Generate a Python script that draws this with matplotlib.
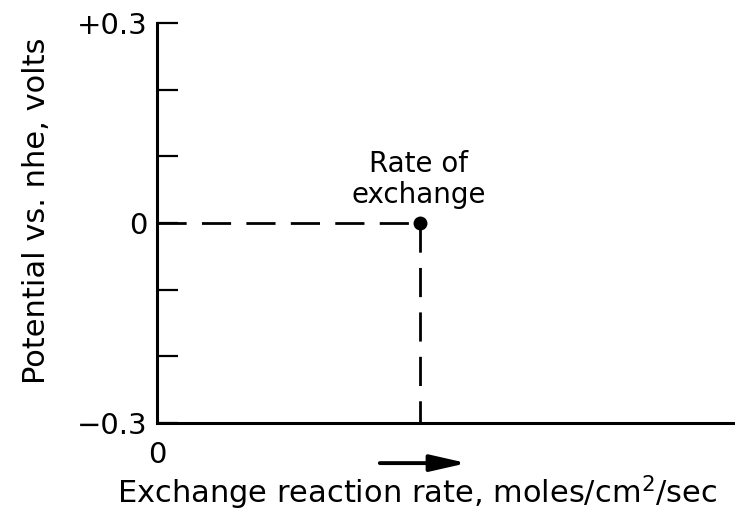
import matplotlib.pyplot as plt
import numpy as np

plt.rcParams['font.family'] = ['DejaVu Sans']
plt.rcParams['lines.scale_dashes'] = False

# data
ytick_vals = [-0.3, -0.2, -0.1, 0.0, 0.1, 0.2, 0.3]
ytick_labels = ['\u22120.3', '', '', '0', '', '', '+0.3']
exchange_rate = 0.455   # position along the rate axis (arbitrary units)
exchange_potential = 0.0
point_label = 'Rate of\nexchange'

fig = plt.figure(figsize=(7.35, 5.14), dpi=100)
ax = fig.add_axes([0.2136, 0.177, 0.7864, 0.778])

ax.set_xlim(0, 1)
ax.set_ylim(-0.3, 0.3)

# dashed guides to the point
ax.plot([0, exchange_rate], [exchange_potential, exchange_potential],
        color='black', lw=2, dashes=(21, 11))
ax.plot([exchange_rate, exchange_rate], [exchange_potential, -0.3],
        color='black', lw=2, dashes=(21, 11))
ax.plot([exchange_rate], [exchange_potential], 'o', color='black', ms=9, clip_on=False)

ax.annotate(point_label, (exchange_rate, exchange_potential), xytext=(-1, 10),
            textcoords='offset points', ha='center', va='bottom',
            fontsize=20, linespacing=1.15)

for s in ['top', 'right']:
    ax.spines[s].set_visible(False)
for s in ['left', 'bottom']:
    ax.spines[s].set_linewidth(2.2)

ax.set_yticks(ytick_vals, ytick_labels)
ax.tick_params(axis='y', direction='in', length=15, width=1.6, pad=7, labelsize=21)
ax.set_xticks([0], ['0'])
ax.tick_params(axis='x', length=0, pad=13, labelsize=21)

ax.set_ylabel('Potential vs. nhe, volts', fontsize=22)
ax.yaxis.set_label_coords(-0.183, 0.53)
ax.set_xlabel('Exchange reaction rate, moles/cm$^2$/sec', fontsize=22)
ax.xaxis.set_label_coords(0.45, -0.125)

# arrow showing increasing rate
ax.annotate('', xy=(0.639, 0.099), xytext=(0.513, 0.099),
            xycoords='figure fraction', textcoords='figure fraction',
            arrowprops=dict(arrowstyle='-|>,head_length=2.2,head_width=0.5',
                            color='black', lw=2.8))

fig.savefig('out.png', dpi=100)
